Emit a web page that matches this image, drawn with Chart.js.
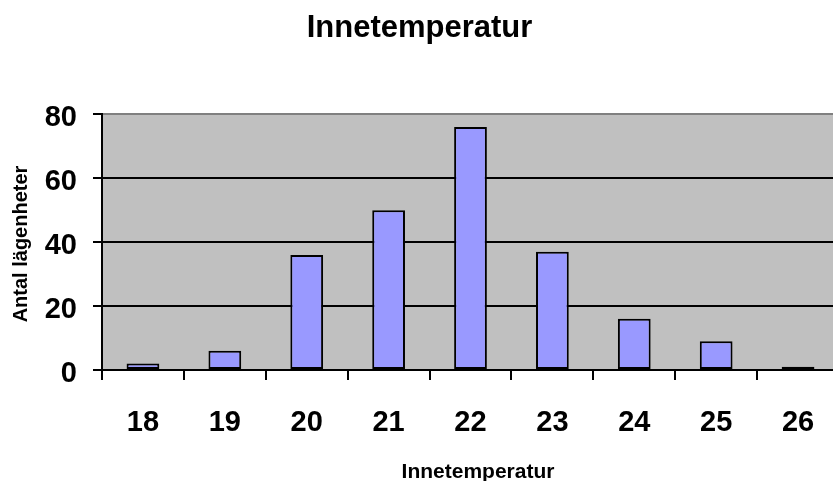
<!DOCTYPE html>
<html>
<head>
<meta charset="utf-8">
<script src="https://cdn.jsdelivr.net/npm/chart.js@4"></script>
<style>
  body { margin: 0; background: #fff; overflow: hidden; }
  #wrap { width: 833px; height: 481px; overflow: hidden; }
</style>
</head>
<body>
<div id="wrap"><canvas id="myChart" width="842" height="481"></canvas></div>
<script>
// data
var kategorier = ["18", "19", "20", "21", "22", "23", "24", "25", "26"];
var antal = [2, 6, 36, 50, 76, 37, 16, 9, 1];
var yTicks = [0, 20, 40, 60, 80];

var titel = "Innetemperatur";
var xTitel = "Innetemperatur";
var yTitel = "Antal lägenheter";

var fam = "'Liberation Sans', Arial, Helvetica, sans-serif";
Chart.defaults.font.family = fam;
Chart.defaults.color = "#000";

// grå bakgrund i plottytan + axeltitlar
var plotBg = {
    id: "plotBg",
    beforeDraw: function(chart){
        var a = chart.chartArea, ctx = chart.ctx;
        ctx.save();
        ctx.fillStyle = "#c0c0c0";
        ctx.fillRect(a.left, a.top, a.right - a.left, a.bottom - a.top);
        ctx.restore();
    },
    afterDraw: function(chart){
        var ctx = chart.ctx;
        ctx.save();
        ctx.fillStyle = "#000";
        ctx.font = "bold 21px " + fam;
        ctx.textAlign = "center";
        ctx.textBaseline = "alphabetic";
        ctx.fillText(xTitel, 478, 478);
        ctx.translate(27, 244);
        ctx.rotate(-Math.PI / 2);
        ctx.font = "bold 20px " + fam;
        ctx.fillText(yTitel, 0, 0);
        ctx.restore();
    }
};

var ctx = document.getElementById("myChart").getContext("2d");
var myChart = new Chart(ctx, {
    type: "bar",
    data: {
        labels: kategorier,
        datasets: [{
            data: antal,
            backgroundColor: "#9999ff",
            borderColor: "#000",
            borderWidth: 2,
            borderSkipped: false,
            barPercentage: 0.4,
            categoryPercentage: 1
        }]
    },
    options: {
        responsive: false,
        animation: false,
        layout: { padding: { left: 0, right: 3, top: 0, bottom: 0 } },
        plugins: {
            legend: { display: false },
            tooltip: { enabled: false },
            title: {
                display: true,
                text: titel,
                font: { size: 31, weight: "bold" },
                color: "#000",
                padding: { top: 10, bottom: 67 }
            }
        },
        scales: {
            x: {
                grid: {
                    offset: true,
                    drawOnChartArea: false,
                    color: "#000",
                    lineWidth: 2,
                    tickLength: 10
                },
                border: { color: "#000", width: 2 },
                ticks: { font: { size: 29, weight: "bold" }, padding: 26, color: "#000" },
                afterFit: function(s){ s.height = 111; }
            },
            y: {
                min: 0,
                max: 80,
                afterBuildTicks: function(s){
                    s.ticks = yTicks.map(function(v){ return { value: v }; });
                },
                grid: {
                    color: function(c){ return c.tick && c.tick.value === 80 ? "#808080" : "#000"; },
                    tickColor: "#000",
                    lineWidth: 2,
                    tickLength: 9
                },
                border: { color: "#000", width: 2 },
                ticks: { font: { size: 29, weight: "bold" }, padding: 16, labelOffset: 4, color: "#000" },
                afterFit: function(s){ s.width = 102; }
            }
        }
    },
    plugins: [plotBg]
});
</script>
</body>
</html>
